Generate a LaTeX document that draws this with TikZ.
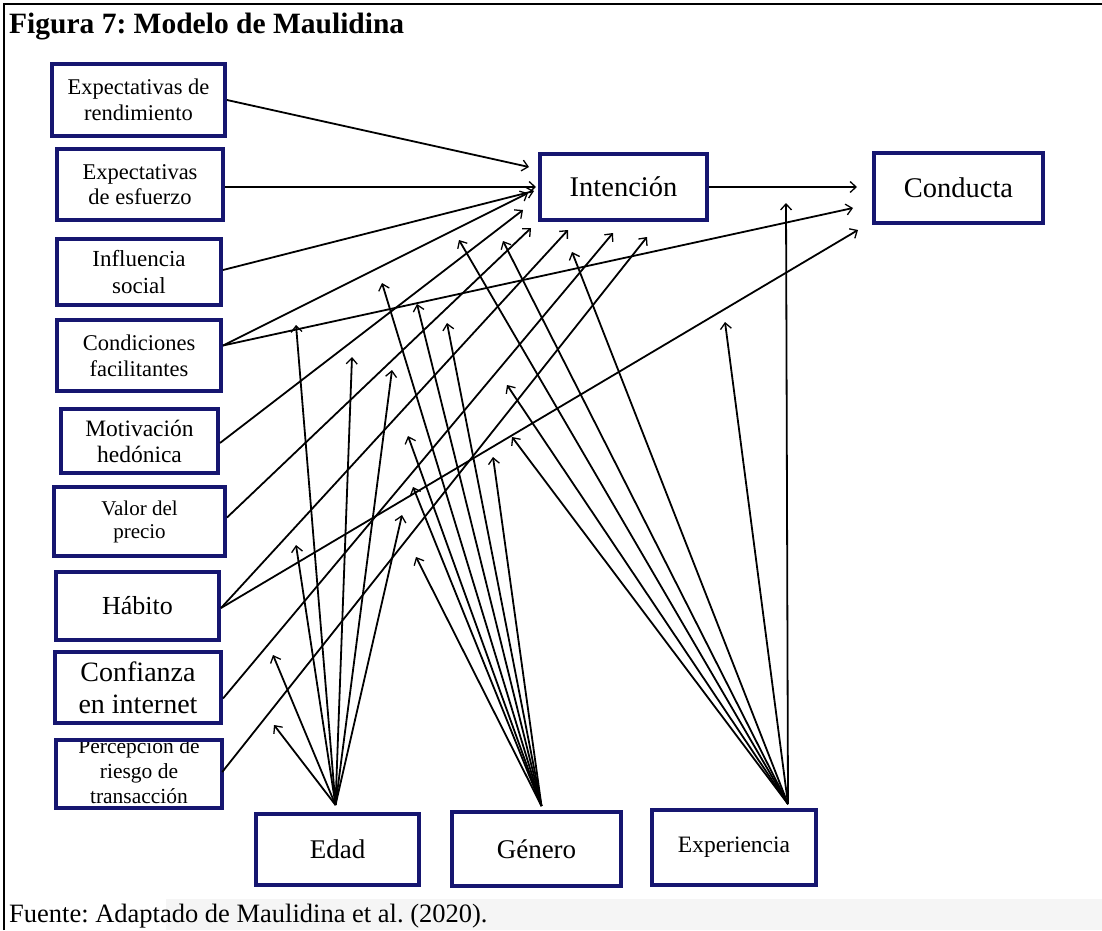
\documentclass[tikz,border=0pt]{standalone}
\usepackage{fontspec}
\setmainfont{Liberation Serif}
\usetikzlibrary{arrows.meta,calc}
\definecolor{navy}{RGB}{22,22,112}
\newcommand{\fsz}[2]{\fontsize{#1}{#2}\selectfont}
\frenchspacing
\begin{document}
\begin{tikzpicture}[x=1pt,y=-1pt,
  box/.style={draw=navy, line width=4pt, fill=white, inner sep=0pt, align=center},
  arr/.style={line width=1.8pt, -{Straight Barb[length=6pt,width=11pt,line width=1.3pt]}},
  frameline/.style={line width=2.5pt, black}
]
\useasboundingbox (0,0) rectangle (1102,930);
% faint band behind the source line
\fill[gray!8] (166,899) rectangle (1102,930);
% frame
\draw[frameline] (4,930) -- (4,4) -- (1102,4);

% title and source
\node[anchor=base west, inner sep=0pt, font=\bfseries\fsz{29.5}{31}] (title) at (9,33) {Figura 7: Modelo de Maulidina};
\node[anchor=base west, inner sep=0pt, font=\fsz{26.5}{28}] (src) at (9,922) {Fuente: Adaptado de Maulidina et al. (2020).};

% predictor boxes
\node[box, minimum width=173pt, minimum height=72pt, font=\fsz{22.5}{26}] (rend) at (138.5,100) {Expectativas de\\rendimiento};
\node[box, minimum width=166pt, minimum height=71pt, font=\fsz{22.5}{25}] (esf) at (140,184.5) {Expectativas\\de esfuerzo};
\node[box, minimum width=164pt, minimum height=66pt, font=\fsz{23}{27}] (infl) at (139,272) {Influencia\\social};
\node[box, minimum width=164pt, minimum height=71pt, font=\fsz{22.5}{26}] (cond) at (139,355.5) {Condiciones\\facilitantes};
\node[box, minimum width=157pt, minimum height=64pt, font=\fsz{23.5}{26}] (moti) at (139.5,441) {Motivación\\hedónica};
\node[box, minimum width=171pt, minimum height=69pt, font=\fsz{21}{23}] (valor) at (139.5,521.5) {Valor del\\precio};
\node[box, minimum width=163pt, minimum height=68pt, font=\fsz{26}{28}] (hab) at (137.5,606) {Hábito};
\node[box, minimum width=166pt, minimum height=71pt, font=\fsz{28}{32}] (conf) at (138,687.5) {Confianza\\en internet};
\node[fill=white, inner sep=0pt, minimum width=166pt, minimum height=68pt] (perc) at (139,774) {};
\node[inner sep=0pt, align=center, font=\fsz{21.5}{25}] (perctxt) at (139,771) {Percepción de\\riesgo de\\transacción};
\draw[draw=navy, line width=4pt] (perc.north west) rectangle (perc.south east);

% outcome boxes
\node[box, minimum width=167pt, minimum height=66pt, font=\fsz{28.5}{30}] (int) at (623.5,187) {Intención};
\node[box, minimum width=169pt, minimum height=70pt, font=\fsz{28.5}{30}] (condu) at (958.5,188) {Conducta};

% moderator boxes
\node[box, minimum width=163pt, minimum height=71pt, font=\fsz{27}{29}] (edad) at (337.5,849.5) {Edad};
\node[box, minimum width=169pt, minimum height=74pt, font=\fsz{27}{29}] (gen) at (536.5,849) {Género};
\node[box, minimum width=164pt, minimum height=75pt, font=\fsz{23.5}{26}] (expe) at (734,847.5) {Experiencia};

% arrow end points
\coordinate (t-rend) at (529,167);
\coordinate (t-esf) at (536,187);
\coordinate (t-infl) at (534,191);
\coordinate (t-cond) at (528,193);
\coordinate (t-moti) at (523,210);
\coordinate (t-valor) at (531,228);
\coordinate (t-hab) at (568,230);
\coordinate (t-conf) at (613,233);
\coordinate (t-perc) at (647,237);
\coordinate (t-condC) at (853,208);
\coordinate (t-habC) at (858,230);
\coordinate (t-int) at (857,187);

% predictor arrows
\draw[arr] (rend.east) -- (t-rend);
\draw[arr] ($(esf.east)+(0,2.5)$) -- (t-esf);
\draw[arr] ($(infl.east)+(0,-2)$) -- (t-infl);
\draw[arr] ($(cond.east)+(0,-10)$) -- (t-cond);
\draw[arr] ($(cond.east)+(0,-10)$) -- (t-condC);
\draw[arr] ($(moti.east)+(0,2)$) -- (t-moti);
\draw[arr] ($(valor.east)+(0,-4)$) -- (t-valor);
\draw[arr] ($(hab.east)+(0,2)$) -- (t-hab);
\draw[arr] ($(hab.east)+(0,2)$) -- (t-habC);
\draw[arr] ($(conf.east)+(0,11)$) -- (t-conf);
\draw[arr] ($(perc.east)+(0,-2)$) -- (t-perc);
\draw[arr] (int.east) -- (t-int);

% moderator origins
\coordinate (ea) at ($(edad.north)+(-2,-7)$);
\coordinate (ga) at ($(gen.north)+(5,-4)$);
\coordinate (xa) at ($(expe.north)+(54,-4)$);

% moderator arrow end points
\foreach \i/\px/\py in {1/274/725,2/273/655,3/296/545,4/402/515,5/296/325,6/352/357,7/392/370}
  \coordinate (e\i) at (\px,\py);
\foreach \i/\px/\py in {1/416/557,2/413/487,3/408/436,4/493/457,5/382/283,6/417/304,7/447/323}
  \coordinate (g\i) at (\px,\py);
\foreach \i/\px/\py in {1/459/240,2/503/241,3/572/252,4/507/385,5/512/437,6/725/322,7/786/203}
  \coordinate (x\i) at (\px,\py);

\foreach \i in {1,...,7} {
  \draw[arr] (ea) -- (e\i);
  \draw[arr] (ga) -- (g\i);
  \draw[arr] (xa) -- (x\i);
}
\end{tikzpicture}
\end{document}
